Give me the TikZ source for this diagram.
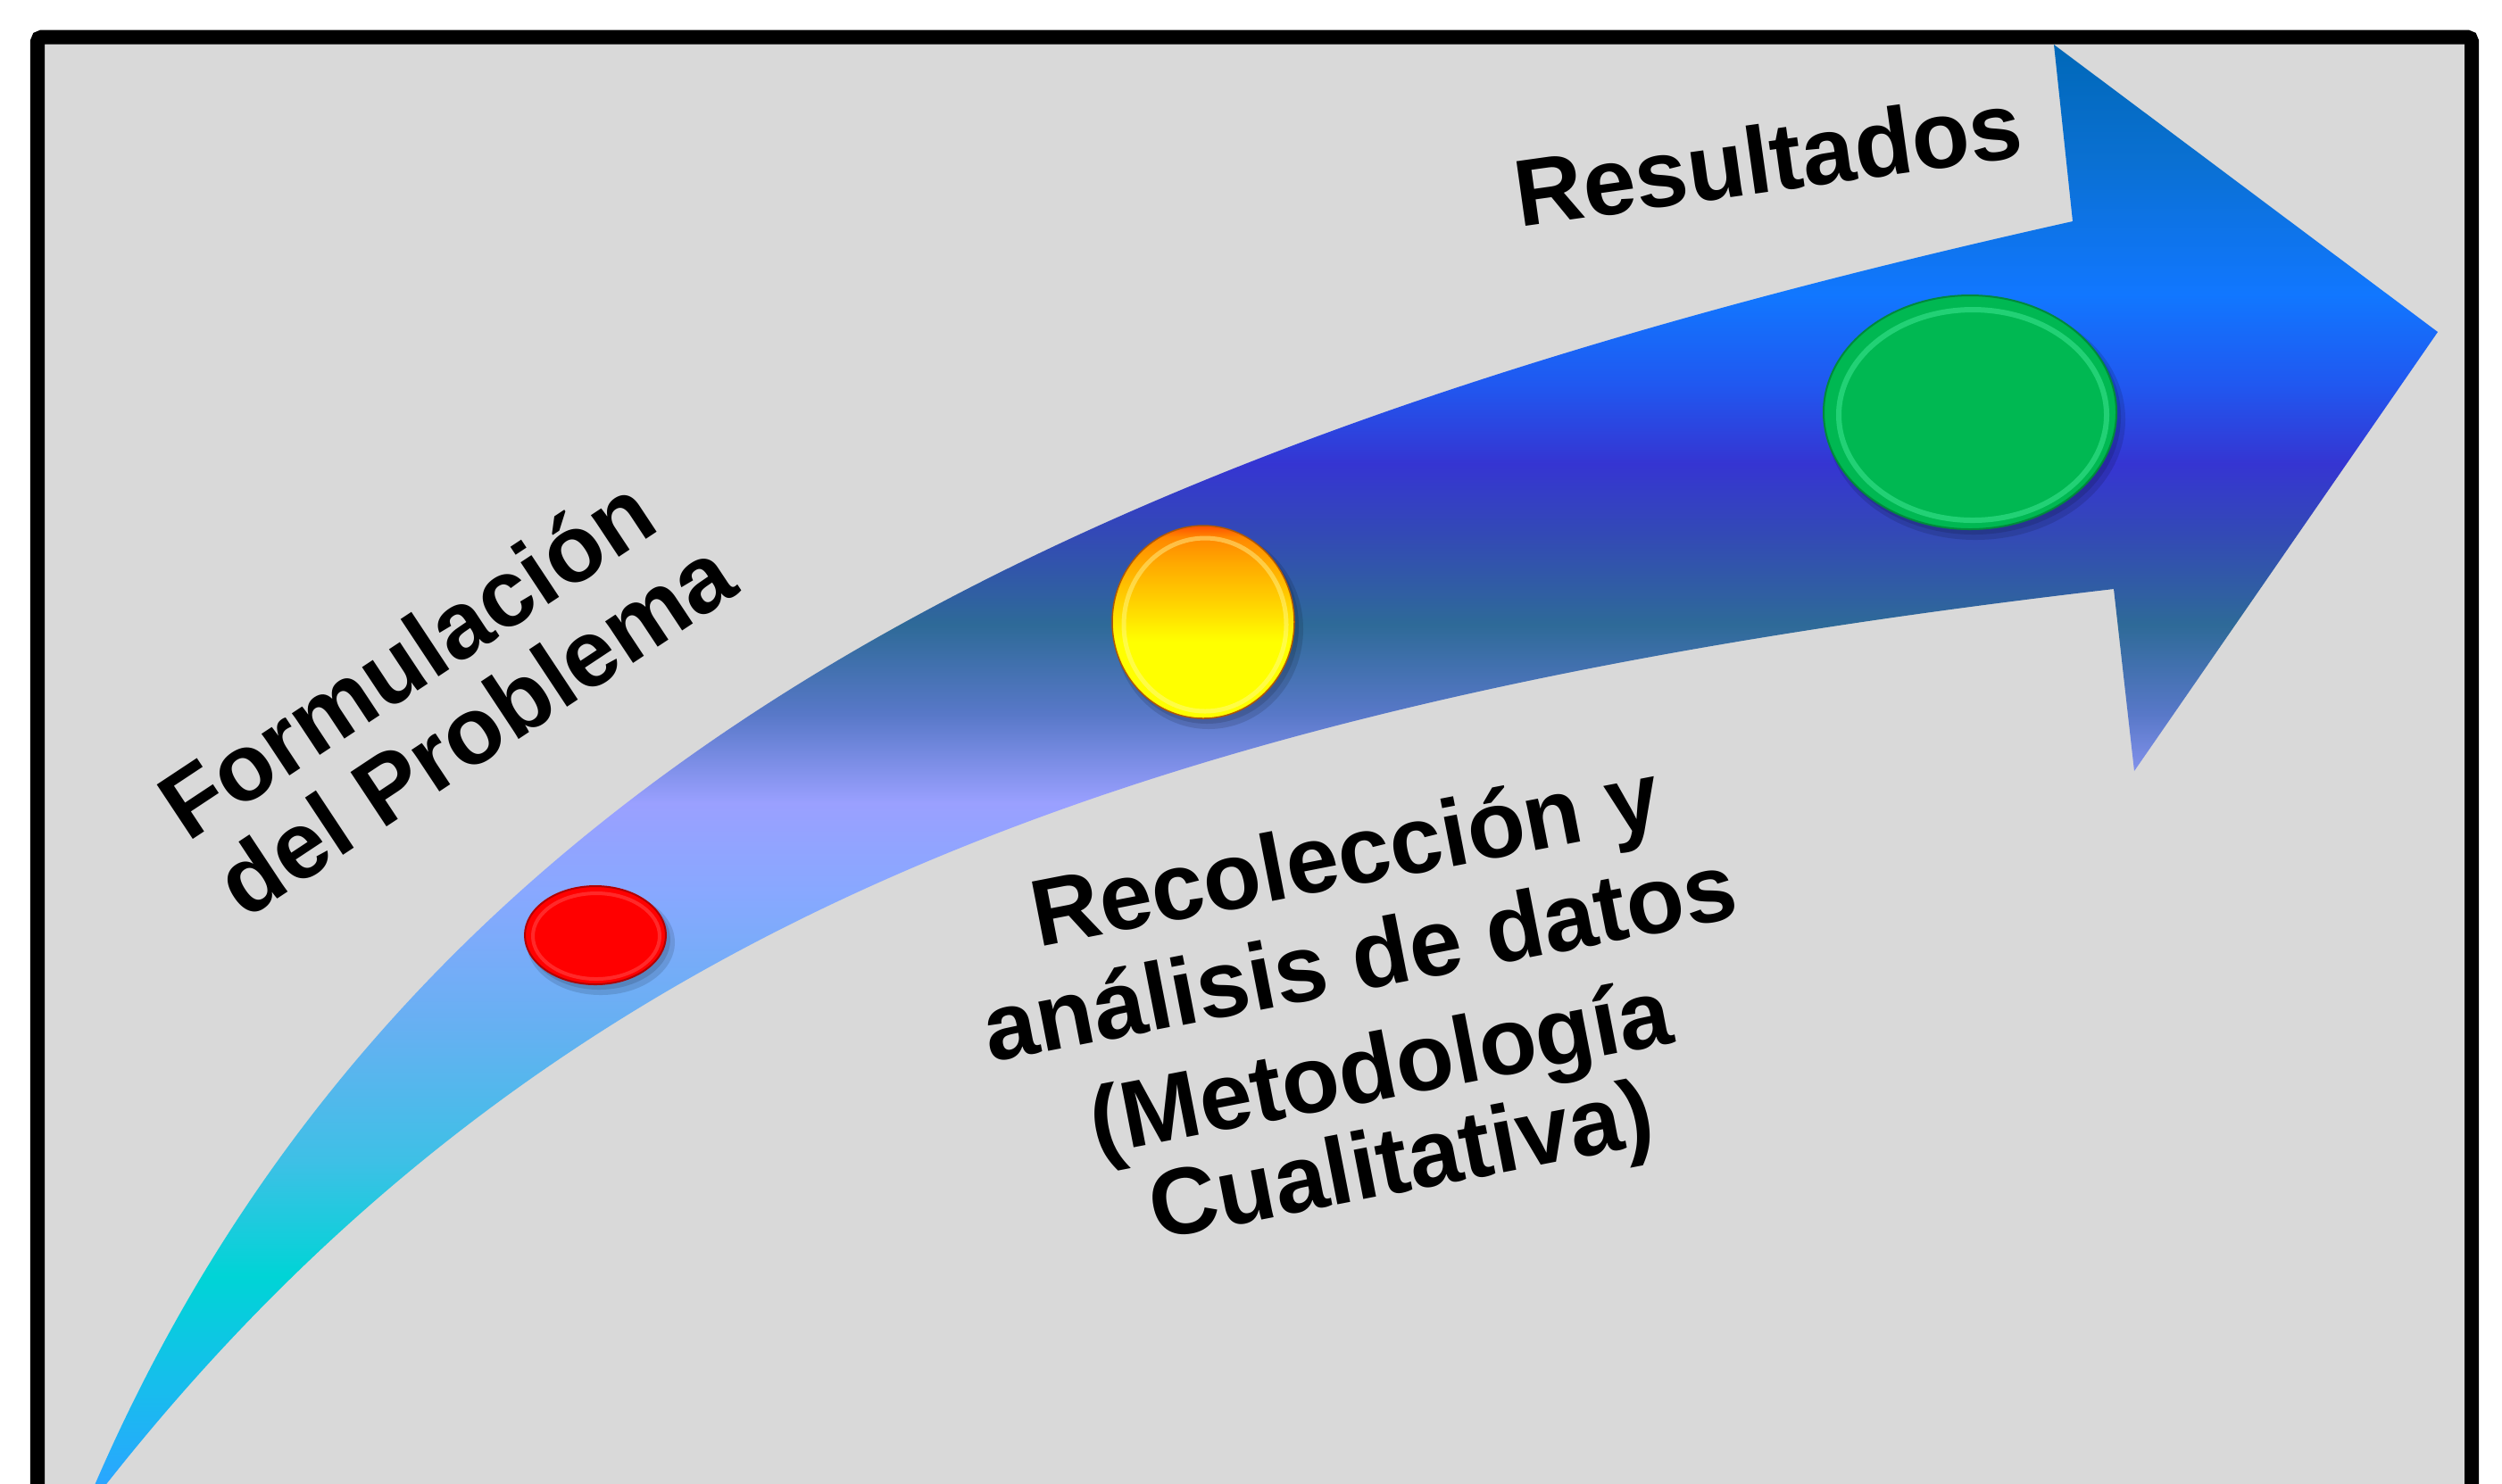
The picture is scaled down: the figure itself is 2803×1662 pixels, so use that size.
\documentclass[tikz,border=0pt]{standalone}
\usepackage{fontspec}
\setmainfont{Liberation Sans}
\definecolor{bgfill}{HTML}{D9D9D9}
\definecolor{arA}{HTML}{0064AE}
\definecolor{arB}{HTML}{0068B8}
\definecolor{arC}{HTML}{0A70D2}
\definecolor{arD}{HTML}{1177FF}
\definecolor{arE}{HTML}{2058F0}
\definecolor{arF}{HTML}{3535D2}
\definecolor{arG}{HTML}{334AB5}
\definecolor{arH}{HTML}{2E6A98}
\definecolor{arI}{HTML}{5878C8}
\definecolor{arJ}{HTML}{9AA0FF}
\definecolor{arK}{HTML}{88A8FF}
\definecolor{arL}{HTML}{66B0F2}
\definecolor{arM}{HTML}{3EC0E6}
\definecolor{arN}{HTML}{00D4D6}
\definecolor{arO}{HTML}{18BCEE}
\definecolor{arP}{HTML}{2AA6FF}
\definecolor{yeA}{HTML}{FFFF00}
\definecolor{yeB}{HTML}{FFD200}
\definecolor{yeC}{HTML}{FFAA00}
\definecolor{yeD}{HTML}{FF8800}
\definecolor{yeE}{HTML}{FF5000}
\definecolor{reddot}{HTML}{FF0000}
\definecolor{greendot}{HTML}{00B852}
\definecolor{greenedge}{HTML}{008A3C}
\definecolor{greenring}{HTML}{4CF0A0}
\pgfdeclareverticalshading{arrowshade}{100bp}{color(0bp)=(arP); color(25bp)=(arP); color(28.07bp)=(arO); color(31.98bp)=(arN); color(35.89bp)=(arM); color(40.4bp)=(arL); color(44.92bp)=(arK); color(47.92bp)=(arJ); color(50.93bp)=(arI); color(53.94bp)=(arH); color(56.95bp)=(arG); color(59.36bp)=(arF); color(62.06bp)=(arE); color(65.07bp)=(arD); color(69.58bp)=(arC); color(73.5bp)=(arB); color(75bp)=(arA); color(100bp)=(arA)}
\pgfdeclareverticalshading{yshade}{100bp}{color(0bp)=(yeA); color(25bp)=(yeA); color(45bp)=(yeA); color(55bp)=(yeB); color(65bp)=(yeC); color(72bp)=(yeD); color(75bp)=(yeE); color(100bp)=(yeE)}
\tikzset{
  lbl/.style={font=\fontsize{30.2}{32}\selectfont\bfseries, inner sep=0pt, anchor=base, text=black},
  framestyle/.style={draw=black, line width=0.16cm, rounded corners=0.05cm, fill=bgfill},
  shadowstyle/.style={fill=black, opacity=0.12},
}
\begin{document}
\begin{tikzpicture}[x=0.01cm,y=-0.01cm]
\useasboundingbox (0,0) rectangle (2803,1662);
\clip (0,0) rectangle (2803,1662);
\fill[white] (0,0) rectangle (2803,1662);
\draw[framestyle] (42,1760) -- (42,41.5) -- (2769,41.5) -- (2769,1760);
% arrow
\coordinate (tail) at (89,1702);
\coordinate (upA) at (107,1662);
\coordinate (upB) at (2322,248);
\coordinate (headTop) at (2301,50);
\coordinate (tip) at (2731,372);
\coordinate (headBot) at (2391,864);
\coordinate (loA) at (2368,660);
\coordinate (loB) at (120,1662);
\begin{scope}
\clip (tail) -- (upA) .. controls (465,837) and (1248,488) .. (upB) -- (headTop) -- (tip) -- (headBot) -- (loA) .. controls (1276,787) and (616,1034) .. (loB) -- cycle;
\shade[shading=arrowshade] (0,0) rectangle (2803,1662);
\end{scope}
% red dot
\fill[shadowstyle] (673,1056) ellipse [x radius=83, y radius=59];
\fill[shadowstyle] (671,1053) ellipse [x radius=80, y radius=56];
\fill[reddot, draw=red!70!black, line width=0.02cm] (667,1048) ellipse [x radius=79, y radius=55];
\draw[white, opacity=0.16, line width=0.04cm] (668,1049) ellipse [x radius=71, y radius=48];
% yellow dot
\fill[shadowstyle] (1354,705) ellipse [x radius=106, y radius=112];
\fill[shadowstyle] (1352,702) ellipse [x radius=103, y radius=109];
\shade[shading=yshade, draw=orange!70!black, line width=0.015cm] (1348,697) ellipse [x radius=102, y radius=108];
\draw[yellow!40!white, opacity=0.45, line width=0.05cm] (1350,700) ellipse [x radius=91, y radius=97];
% green dot
\fill[shadowstyle] (2213,470) ellipse [x radius=168, y radius=135];
\fill[shadowstyle] (2211,467) ellipse [x radius=165, y radius=132];
\fill[greendot, draw=greenedge, line width=0.02cm] (2207,462) ellipse [x radius=164, y radius=131];
\draw[greenring, opacity=0.45, line width=0.06cm] (2210,465) ellipse [x radius=150, y radius=118];
% texts
\node[lbl, rotate=33.5] (formA) at (476,769) {Formulación};
\node[lbl, rotate=33.5] (formB) at (553,847) {del Problema};
\node[lbl, rotate=8] (res) at (1986,215) {Resultados};
\node[lbl, rotate=11] (recA) at (1514,993) {Recolección y};
\node[lbl, rotate=11] (recB) at (1530,1109) {análisis de datos};
\node[lbl, rotate=11] (recC) at (1553,1231) {(Metodología};
\node[lbl, rotate=11] (recD) at (1576,1335) {Cualitativa)};
\end{tikzpicture}
\end{document}
